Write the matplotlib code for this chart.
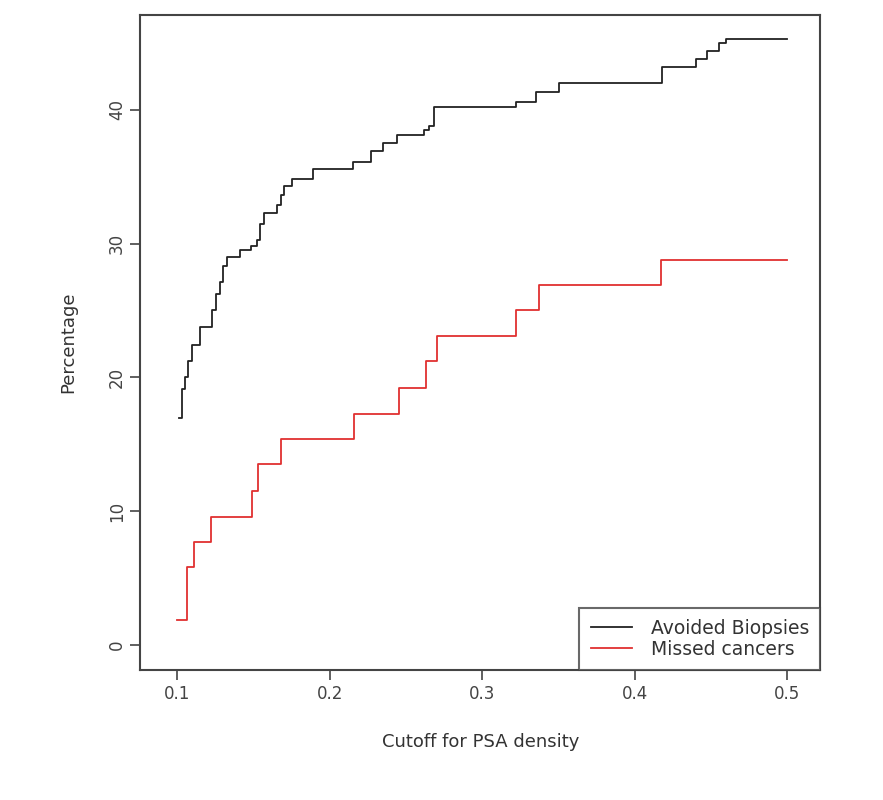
import matplotlib
matplotlib.use("Agg")
import matplotlib.pyplot as plt

# step points (cutoff, percentage)
avoided_x = [0.101, 0.103, 0.105, 0.107, 0.1097, 0.115, 0.1227, 0.125, 0.128, 0.130, 0.1326,
             0.141, 0.148, 0.152, 0.154, 0.157, 0.165, 0.168, 0.170, 0.175, 0.189,
             0.215, 0.227, 0.235, 0.244, 0.262, 0.265, 0.268, 0.322, 0.335, 0.35,
             0.418, 0.44, 0.447, 0.455, 0.46, 0.5]
avoided_y = [17.0, 19.1, 20.0, 21.2, 22.4, 23.8, 25.0, 26.2, 27.1, 28.3, 29.0,
             29.5, 29.8, 30.3, 31.5, 32.3, 32.9, 33.6, 34.3, 34.8, 35.6,
             36.1, 36.9, 37.5, 38.1, 38.5, 38.8, 40.2, 40.6, 41.3, 42.0,
             43.2, 43.8, 44.4, 45.0, 45.3, 45.3]

missed_x = [0.1, 0.106, 0.111, 0.122, 0.149, 0.153, 0.168, 0.216, 0.245, 0.263,
            0.270, 0.322, 0.337, 0.417, 0.5]
missed_y = [1.9, 5.8, 7.7, 9.6, 11.5, 13.5, 15.4, 17.3, 19.2, 21.2,
            23.1, 25.0, 26.9, 28.8, 28.8]

fig = plt.figure(figsize=(8.83, 8), dpi=100)
ax = fig.add_axes([0.159, 0.1625, 0.77, 0.819])

ax.step(avoided_x, avoided_y, where="post", color="#222222", lw=1.3, label="Avoided Biopsies")
ax.step(missed_x, missed_y, where="post", color="#e03030", lw=1.3, label="Missed cancers")

ax.set_xlim(0.0757, 0.5216)
ax.set_ylim(-1.87, 47.1)
ax.set_xticks([0.1, 0.2, 0.3, 0.4, 0.5])
ax.set_yticks([0, 10, 20, 30, 40])
ax.tick_params(colors="#444444", labelsize=12, length=7, width=1.2)
for lab in ax.get_yticklabels():
    lab.set_rotation(90)
    lab.set_va("center")
for s in ax.spines.values():
    s.set_color("#444444")
    s.set_linewidth(1.5)

ax.set_xlabel("Cutoff for PSA density", fontsize=13, color="#333333", labelpad=22)
ax.set_ylabel("Percentage", fontsize=13, color="#333333", labelpad=22)

leg = ax.legend(loc="lower right", fontsize=13.5, frameon=True, fancybox=False,
                borderaxespad=0, handlelength=2.2, handletextpad=1.0,
                borderpad=0.6, labelspacing=0.1, labelcolor="#333333")
leg.get_frame().set_edgecolor("#444444")
leg.get_frame().set_linewidth(1.5)

fig.savefig("out.png")
